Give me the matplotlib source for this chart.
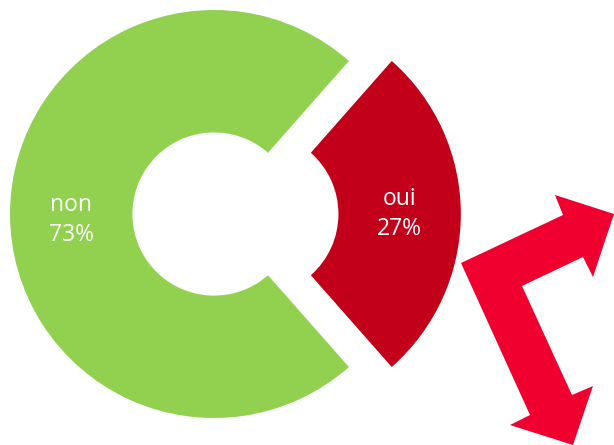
''' donut chart oui / non with decorative arrow
'''
import matplotlib
import matplotlib.pyplot as plt
from matplotlib.patches import Polygon

matplotlib.use('Agg')

# data
categories = ['oui', 'non']
values = [27, 73]
colors = ['#C3001A', '#92D050']
explode = [0.21, 0]

ARROW_COLOR = '#EF002E'
W, H = 614, 445

plt.rcParams['font.family'] = ['Open Sans', 'DejaVu Sans']

fig = plt.figure(figsize=(W / 100, H / 100), dpi=100)
ax = fig.add_axes([0, 0, 1, 1])

labels = [f'{cat}\n{val}%' for cat, val in zip(categories, values)]
wedges, texts = ax.pie(values, labels=labels, colors=colors, explode=explode,
                       startangle=-values[0] * 3.6 / 2, counterclock=True,
                       labeldistance=0.7, wedgeprops=dict(width=0.6, linewidth=0),
                       textprops=dict(color='white', fontsize=16.5, ha='center',
                                      va='center', linespacing=1.35))

# pie centre sits at pixel (214, 214), radius 204 px
rad = 204
ax.set_xlim(-214 / rad, (W - 214) / rad)
ax.set_ylim(-(H - 214) / rad, 214 / rad)
ax.set_aspect('auto')
ax.axis('off')

# 'non' label sits a little lower in the original
x, y = texts[1].get_position()
texts[1].set_position((x, y - 0.03))

# decorative bent double arrow (pixel outline, top-left origin)
arrow_px = [(461, 263), (563, 215), (555, 195), (614, 214), (593, 277),
            (583, 257), (522, 286), (572, 395), (593, 386), (573, 445),
            (510, 425), (530, 415)]
arrow = Polygon([(x / W, 1 - y / H) for x, y in arrow_px], closed=True,
                facecolor=ARROW_COLOR, edgecolor='none',
                transform=fig.transFigure, clip_on=False)
fig.patches.append(arrow)

plt.savefig('out.png', dpi=100)
plt.close()
